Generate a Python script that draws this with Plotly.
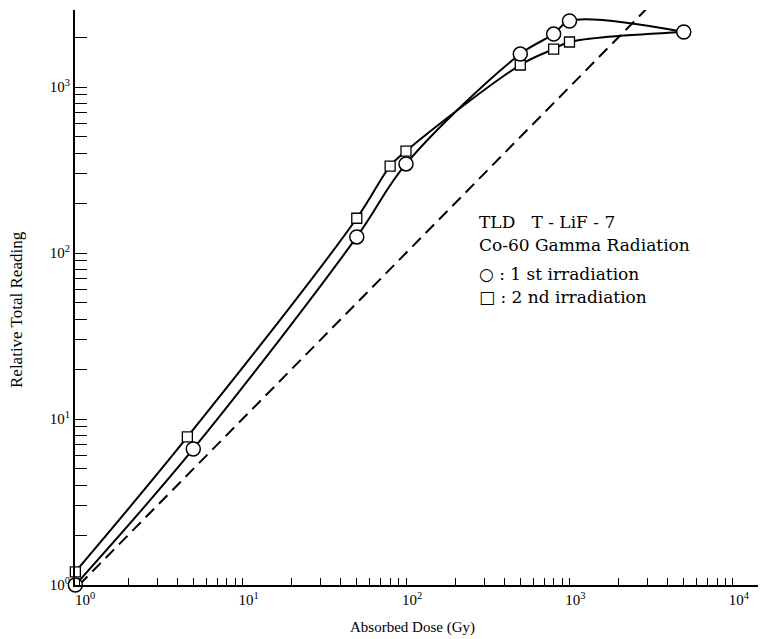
import plotly.graph_objects as go

# Data (Absorbed dose in Gy, relative total reading)
circle_x = [0.95, 5, 50, 100, 500, 800, 1000, 5000]
circle_y = [1.0, 6.6, 125, 344, 1580, 2085, 2500, 2145]

square_x = [0.95, 4.6, 50, 80, 100, 500, 800, 1000]
square_y = [1.2, 7.8, 162, 334, 411, 1357, 1693, 1867]

# second-irradiation curve ends at the last common point
square_end_x = [5000]
square_end_y = [2145]

# reference line y = x
ref_x = [1, 2950]
ref_y = [1, 2950]

tick_vals = [1, 10, 100, 1000, 10000]
tick_text = ["10<sup>0</sup>", "10<sup>1</sup>", "10<sup>2</sup>", "10<sup>3</sup>", "10<sup>4</sup>"]

legend_lines = [
    "TLD   T - LiF - 7",
    "Co-60 Gamma Radiation",
    "○ : 1 st irradiation",
    "□ : 2 nd irradiation",
]

FONT = "Liberation Serif, Times New Roman, serif"

fig = go.Figure()

fig.add_trace(go.Scatter(x=ref_x, y=ref_y, mode="lines",
                         line=dict(color="black", width=2, dash="12px,7px"),
                         showlegend=False, hoverinfo="skip"))

fig.add_trace(go.Scatter(x=circle_x, y=circle_y, mode="lines",
                         line=dict(color="black", width=2, shape="spline", smoothing=1.0),
                         showlegend=False))
fig.add_trace(go.Scatter(x=square_x + square_end_x, y=square_y + square_end_y, mode="lines",
                         line=dict(color="black", width=2, shape="spline", smoothing=1.0),
                         showlegend=False))

fig.add_trace(go.Scatter(x=square_x, y=square_y, mode="markers",
                         marker=dict(symbol="square", size=10, color="white",
                                     line=dict(color="black", width=1.3)),
                         cliponaxis=False, showlegend=False))
fig.add_trace(go.Scatter(x=circle_x, y=circle_y, mode="markers",
                         marker=dict(symbol="circle", size=14, color="white",
                                     line=dict(color="black", width=1.5)),
                         cliponaxis=False, showlegend=False))

# plot area in pixels: x 75..758, y 10..585
L, R, T, B = 75, 4, 10, 54
W, H = 762, 639
pw, ph = W - L - R, H - T - B

def px_to_paper(px, py):
    return (px - L) / pw, (H - B - py) / ph

annotations = []
for i, line in enumerate(legend_lines):
    ax, ay = px_to_paper(477, [222, 245, 274, 297][i])
    annotations.append(dict(x=ax, y=ay, xref="paper", yref="paper", text=line,
                            showarrow=False, xanchor="left", yanchor="middle",
                            font=dict(family="DejaVu Serif", size=17, color="black")))

ax, ay = px_to_paper(412, 627)
annotations.append(dict(x=ax, y=ay, xref="paper", yref="paper", text="Absorbed Dose (Gy)",
                        showarrow=False, xanchor="center", yanchor="middle",
                        font=dict(family=FONT, size=15, color="black")))
ax, ay = px_to_paper(16, 310)
annotations.append(dict(x=ax, y=ay, xref="paper", yref="paper", text="Relative Total Reading",
                        showarrow=False, xanchor="center", yanchor="middle", textangle=-90,
                        font=dict(family=FONT, size=17, color="black")))

fig.update_layout(
    width=W, height=H,
    margin=dict(l=L, r=R, t=T, b=B, pad=0),
    paper_bgcolor="white", plot_bgcolor="white",
    font=dict(family=FONT, size=15, color="black"),
    annotations=annotations,
    xaxis=dict(type="log", range=[-0.0245, 4.153],
               showline=True, linecolor="black", linewidth=2,
               showgrid=False, zeroline=False,
               tickvals=tick_vals, ticktext=tick_text,
               ticks="inside", ticklen=7, tickwidth=1.2, tickcolor="black",
               ticklabelshift=6,
               minor=dict(ticks="inside", ticklen=7, tickwidth=1, tickcolor="black",
                          dtick="D1", showgrid=False),
               tickfont=dict(family=FONT, size=15)),
    yaxis=dict(type="log", range=[0, 3.464],
               showline=True, linecolor="black", linewidth=2,
               showgrid=False, zeroline=False,
               tickvals=tick_vals[:4], ticktext=tick_text[:4],
               ticks="inside", ticklen=12, tickwidth=1.2, tickcolor="black",
               minor=dict(ticks="inside", ticklen=12, tickwidth=1, tickcolor="black",
                          dtick="D1", showgrid=False),
               tickfont=dict(family=FONT, size=15)),
)

fig.write_html("out.html")
